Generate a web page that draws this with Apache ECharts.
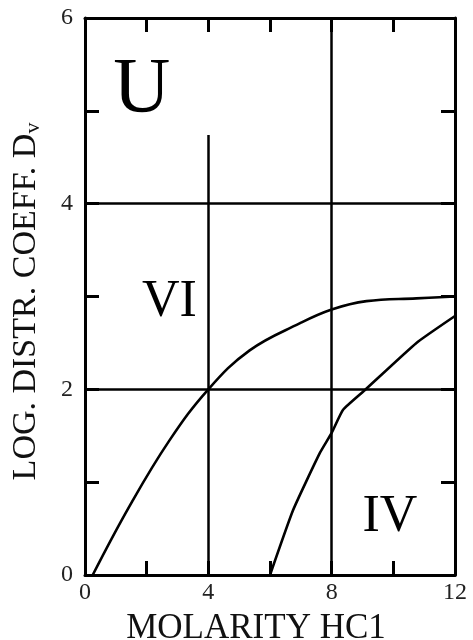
<!DOCTYPE html>
<html>
<head>
<meta charset="utf-8">
<script src="https://cdn.jsdelivr.net/npm/echarts@6/dist/echarts.min.js"></script>
<style>
  html, body { margin: 0; padding: 0; background: #fff; }
  #chart { width: 473px; height: 640px; }
</style>
</head>
<body>
<div id="chart"></div>
<script>
// Uranium distribution coefficient vs HCl molarity
const xTickLabels = [0, 4, 8, 12];
const yTickLabels = [0, 2, 4, 6];

// Oxidation state VI
const curveVI = [
  [0.25, 0], [1.44, 0.74], [2.74, 1.45], [4, 2], [5.34, 2.42],
  [6.96, 2.71], [8, 2.86], [9.13, 2.95], [10.75, 2.98], [12, 3.0]
];
// Oxidation state IV
const curveIV = [
  [6.0, 0], [6.75, 0.70], [7.61, 1.31], [8, 1.53], [8.37, 1.78],
  [9.07, 1.99], [10.75, 2.5], [12, 2.79]
];

// Reference grid: horizontal lines at y, vertical lines at x (with their y extent)
const hGrid = [2, 4];
const vGrid = [[4, 0, 4.74], [8, 0, 6]];

// Text annotations [x, y, text, size]
const annotations = [
  [1.84, 5.22, 'U', 79],
  [2.74, 2.94, 'VI', 52],
  [9.89, 0.62, 'IV', 52]
];

const FONT = 'Liberation Serif';
const INK = '#000';

const chart = echarts.init(document.getElementById('chart'), null, { renderer: 'canvas' });

const tickStyle = { show: true, inside: true, length: 14, lineStyle: { color: INK, width: 3 } };
const lineStyle = { color: INK, width: 3 };

const gridLines = [];
hGrid.forEach(y => gridLines.push([{ coord: [0, y] }, { coord: [12, y] }]));
vGrid.forEach(v => gridLines.push([{ coord: [v[0], v[1]] }, { coord: [v[0], v[2]] }]));

chart.setOption({
  animation: false,
  backgroundColor: '#fff',
  grid: { left: 85, right: 18, top: 18, bottom: 65, outerBoundsMode: 'none', containLabel: false },
  xAxis: [
    {
      type: 'value', min: 0, max: 12, interval: 2, position: 'bottom',
      axisLine: { show: true, onZero: false, lineStyle },
      axisTick: tickStyle,
      splitLine: { show: false },
      axisLabel: {
        margin: 6, color: '#222', fontFamily: FONT, fontSize: 24,
        formatter: v => xTickLabels.includes(v) ? String(v) : ''
      },
      name: 'MOLARITY HC1', nameLocation: 'middle', nameGap: 36,
      nameTextStyle: { color: '#111', fontFamily: FONT, fontSize: 35, padding: [0, 28, 0, 0] }
    },
    {
      type: 'value', min: 0, max: 12, interval: 2, position: 'top',
      axisLine: { show: true, onZero: false, lineStyle },
      axisTick: tickStyle,
      splitLine: { show: false },
      axisLabel: { show: false }
    }
  ],
  yAxis: [
    {
      type: 'value', min: 0, max: 6, interval: 1, position: 'left',
      axisLine: { show: true, onZero: false, lineStyle },
      axisTick: tickStyle,
      splitLine: { show: false },
      axisLabel: {
        margin: 12, color: '#222', fontFamily: FONT, fontSize: 24,
        formatter: v => yTickLabels.includes(v) ? String(v) : ''
      },
      name: '{a|LOG. DISTR. COEFF. D}{b|v}', nameLocation: 'middle', nameGap: 41,
      nameRotate: 90,
      nameTextStyle: {
        color: '#111', fontFamily: FONT, padding: [0, 10, 0, 0],
        rich: {
          a: { fontFamily: FONT, fontSize: 34, color: '#111', lineHeight: 36 },
          b: { fontFamily: FONT, fontSize: 22, color: '#111', verticalAlign: 'bottom', lineHeight: 36 }
        }
      }
    },
    {
      type: 'value', min: 0, max: 6, interval: 1, position: 'right',
      axisLine: { show: true, onZero: false, lineStyle },
      axisTick: tickStyle,
      splitLine: { show: false },
      axisLabel: { show: false }
    }
  ],
  series: [
    {
      name: 'VI', type: 'line', data: curveVI, smooth: 0.4,
      showSymbol: false, clip: true,
      lineStyle: { color: INK, width: 2.6 },
      markLine: {
        silent: true, symbol: 'none', animation: false,
        label: { show: false },
        lineStyle: { color: INK, width: 2.5, type: 'solid' },
        data: gridLines
      },
      markPoint: {
        silent: true, symbol: 'circle', symbolSize: 0,
        label: {
          show: true, position: 'inside', color: INK, fontFamily: FONT,
          formatter: p => p.data.text,
        },
        data: annotations.map(a => ({
          coord: [a[0], a[1]], text: a[2],
          label: { fontSize: a[3] }
        }))
      }
    },
    {
      name: 'IV', type: 'line', data: curveIV, smooth: 0.15,
      showSymbol: false, clip: true,
      lineStyle: { color: INK, width: 2.6 }
    }
  ]
});
</script>
</body>
</html>
